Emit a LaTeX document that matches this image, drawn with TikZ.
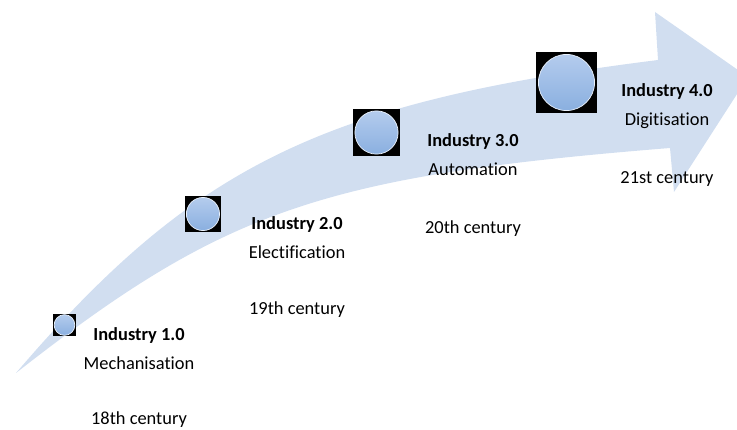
\documentclass[tikz,border=0pt]{standalone}
\usepackage{fontspec}
\setmainfont{Carlito}[Ligatures=NoCommon]
\definecolor{arrowfill}{RGB}{209,222,240}
\definecolor{orbtop}{RGB}{182,205,238}
\definecolor{orbbottom}{RGB}{136,174,223}
\definecolor{orbrim}{RGB}{235,242,252}
\begin{document}
\begin{tikzpicture}[x=1pt,y=-1pt,
  title/.style={font=\fontsize{18.4}{21}\selectfont\bfseries, anchor=base, inner sep=0pt},
  sub/.style={font=\fontsize{18.4}{21}\selectfont, anchor=base, inner sep=0pt},
  orbbox/.style={fill=black, draw=none, minimum size=#1pt, inner sep=0pt,
    path picture={
      \shade[top color=orbtop, bottom color=orbbottom]
        (path picture bounding box.center) circle[radius=0.46*#1pt];
      \draw[orbrim, line width=0.7pt]
        (path picture bounding box.center) circle[radius=0.46*#1pt];
    }},
]
\useasboundingbox (0,0) rectangle (737,430);
\clip (0,0) rectangle (737,430);

% curved rising arrow
\fill[arrowfill] (16,373) .. controls (194,165) and (323,102) .. (658,60)
  -- (655,12) -- (748,77) -- (674,192) -- (670,148)
  .. controls (322,176) and (224,210) .. (16,373) -- cycle;

% stage markers
\node[orbbox=22.5] (o1) at (64.5,325) {};
\node[orbbox=36]   (o2) at (203,214) {};
\node[orbbox=47]   (o3) at (376.5,132.5) {};
\node[orbbox=61]   (o4) at (566.5,82.5) {};

% stage labels
\node[title] (t1) at (139,341) {Industry 1.0};
\node[sub]   (s1) at (139,370) {Mechanisation};
\node[sub]   (c1) at (139,424.5) {18th century};

\node[title] (t2) at (297,230) {Industry 2.0};
\node[sub]   (s2) at (297,259) {Electification};
\node[sub]   (c2) at (297,315) {19th century};

\node[title] (t3) at (473,147) {Industry 3.0};
\node[sub]   (s3) at (473,176) {Automation};
\node[sub]   (c3) at (473,234) {20th century};

\node[title] (t4) at (667,97) {Industry 4.0};
\node[sub]   (s4) at (667,126) {Digitisation};
\node[sub]   (c4) at (667,184) {21st century};
\end{tikzpicture}
\end{document}
